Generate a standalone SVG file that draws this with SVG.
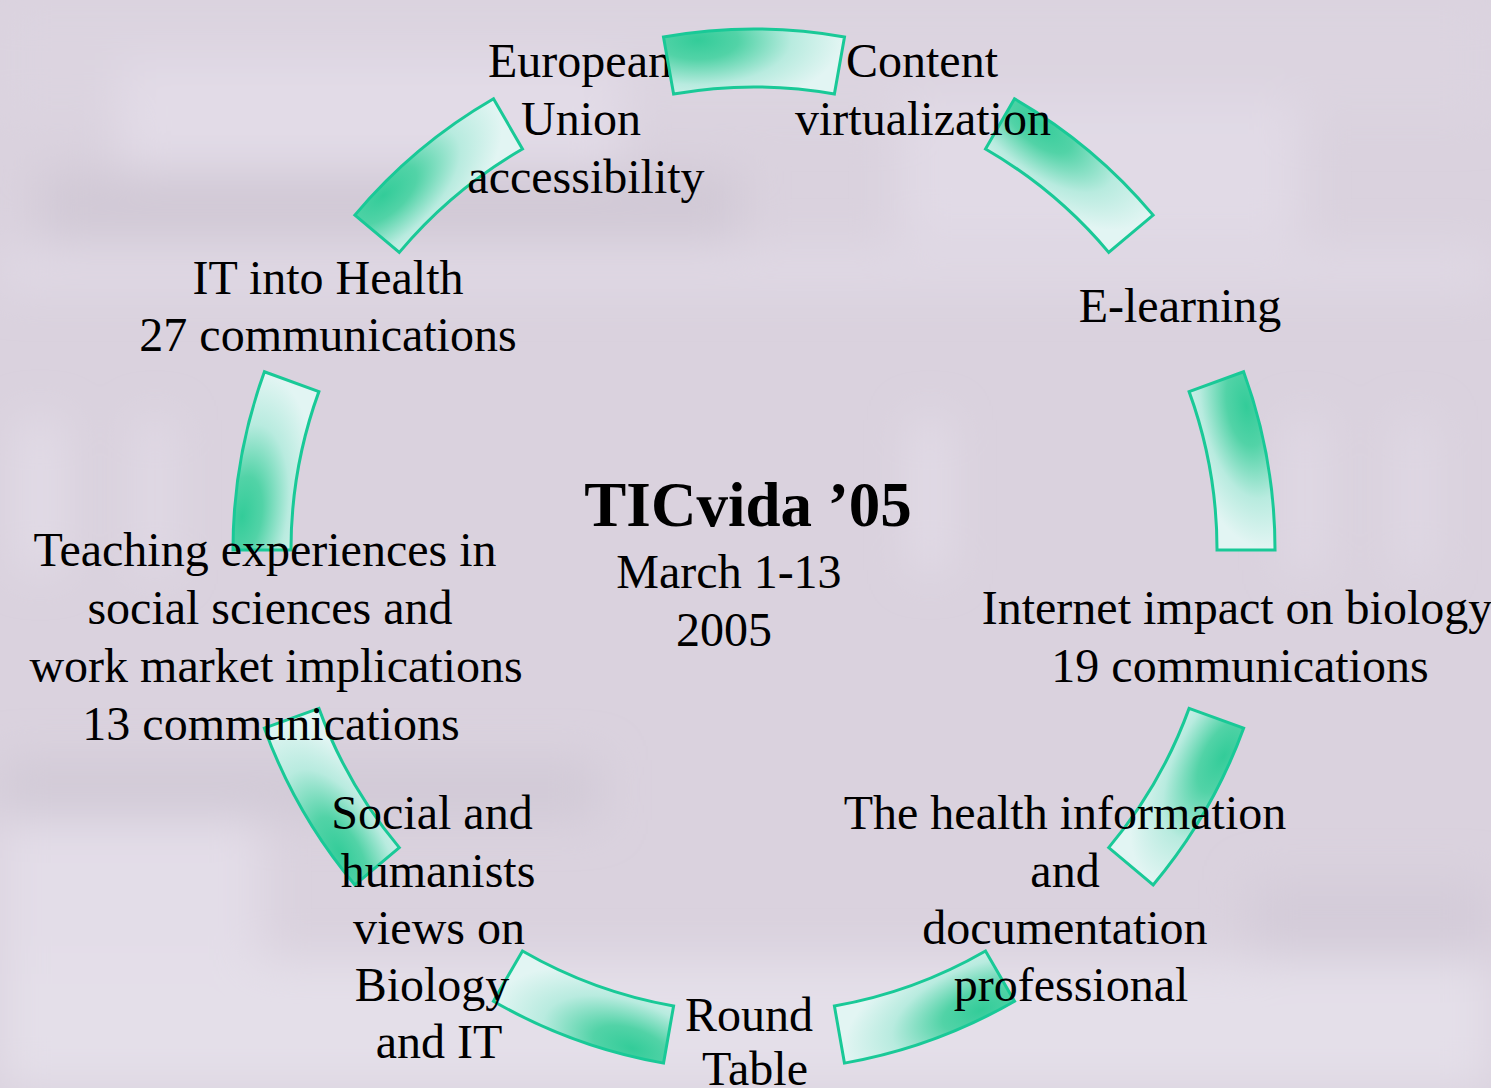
<svg xmlns="http://www.w3.org/2000/svg" width="1491" height="1088" viewBox="0 0 1491 1088">
  <defs>
    <style>
      .seg { fill: url(#segGrad); stroke: #19c997; stroke-width: 3; stroke-linejoin: miter; }
      .lbl { font-family: "Liberation Serif", "Times New Roman", serif; font-size: 48px; fill: #000; text-anchor: middle; }
      .title { font-family: "Liberation Serif", "Times New Roman", serif; font-size: 63px; font-weight: bold; fill: #000; text-anchor: middle; }
    </style>
    <radialGradient id="segGrad" gradientUnits="userSpaceOnUse" cx="698" cy="40" r="115" gradientTransform="translate(698,40) scale(1.25,0.6) translate(-698,-40)">
      <stop offset="0" stop-color="#33cc99"/>
      <stop offset="0.28" stop-color="#52d3a7"/>
      <stop offset="0.65" stop-color="#b8ebdf"/>
      <stop offset="1" stop-color="#e2f5f3"/>
    </radialGradient>
    <filter id="blur" x="-20%" y="-20%" width="140%" height="140%">
      <feGaussianBlur stdDeviation="22"/>
    </filter>
    <path id="arc" d="M663.5,36.9 A521,521 0 0 1 844.5,36.9 L834.4,94.0 A463,463 0 0 0 673.6,94.0 Z"/>
  </defs>

  <g id="background">
    <rect x="0" y="0" width="1491" height="1088" fill="#dad2de"/>
    <g filter="url(#blur)">
      <rect x="0" y="0" width="1491" height="120" fill="#dcd4e0"/>
      <rect x="120" y="60" width="500" height="120" fill="#e2dbe7"/>
      <rect x="40" y="170" width="700" height="70" fill="#d1c9d6"/>
      <rect x="0" y="250" width="1491" height="40" fill="#e0d9e5"/>
      <rect x="900" y="100" width="400" height="140" fill="#e1dae6"/>
      <rect x="20" y="420" width="40" height="150" fill="#e3dde8"/>
      <rect x="140" y="420" width="30" height="150" fill="#e2dbe7"/>
      <rect x="915" y="420" width="30" height="150" fill="#e4dee9"/>
      <rect x="1290" y="420" width="30" height="150" fill="#e2dbe7"/>
      <rect x="1400" y="420" width="30" height="150" fill="#e1dae6"/>
      <rect x="0" y="760" width="600" height="60" fill="#d2cad7"/>
      <rect x="0" y="820" width="260" height="200" fill="#e3dde8"/>
      <rect x="0" y="960" width="1491" height="128" fill="#e4dfe9"/>
      <rect x="1250" y="880" width="241" height="80" fill="#d4ccd9"/>
    </g>
  </g>

  <g id="connectors">
    <g id="seg-upper-right"><use href="#arc" class="seg" transform="rotate(40 754 550)"/></g>
    <g id="seg-right"><use href="#arc" class="seg" transform="rotate(80 754 550)"/></g>
    <g id="seg-lower-right"><use href="#arc" class="seg" transform="rotate(120 754 550)"/></g>
    <g id="seg-bottom-right"><use href="#arc" class="seg" transform="rotate(160 754 550)"/></g>
    <g id="seg-bottom-left"><use href="#arc" class="seg" transform="rotate(200 754 550)"/></g>
    <g id="seg-lower-left"><use href="#arc" class="seg" transform="rotate(240 754 550)"/></g>
    <g id="seg-left"><use href="#arc" class="seg" transform="rotate(280 754 550)"/></g>
    <g id="seg-upper-left"><use href="#arc" class="seg" transform="rotate(320 754 550)"/></g>
  </g>

  <g id="node-center">
    <text class="title" x="748" y="526">TICvida ’05</text>
    <text class="lbl" x="729" y="588">March 1-13</text>
    <text class="lbl" x="724" y="646">2005</text>
  </g>

  <g id="node-eu">
    <text class="lbl" x="580" y="77">European</text>
    <text class="lbl" x="581" y="135">Union</text>
    <text class="lbl" x="586" y="193">accessibility</text>
  </g>

  <g id="node-content">
    <text class="lbl" x="922" y="77">Content</text>
    <text class="lbl" x="923" y="135">virtualization</text>
  </g>

  <g id="node-elearning">
    <text class="lbl" x="1180" y="322">E-learning</text>
  </g>

  <g id="node-internet">
    <text class="lbl" x="1237" y="624">Internet impact on biology</text>
    <text class="lbl" x="1240" y="682">19 communications</text>
  </g>

  <g id="node-health-info">
    <text class="lbl" x="1065" y="829">The health information</text>
    <text class="lbl" x="1065" y="887">and</text>
    <text class="lbl" x="1065" y="944">documentation</text>
    <text class="lbl" x="1071" y="1001">professional</text>
  </g>

  <g id="node-round-table">
    <text class="lbl" x="749" y="1031">Round</text>
    <text class="lbl" x="755" y="1085">Table</text>
  </g>

  <g id="node-social">
    <text class="lbl" x="432" y="829">Social and</text>
    <text class="lbl" x="438" y="887">humanists</text>
    <text class="lbl" x="439" y="944">views on</text>
    <text class="lbl" x="432" y="1001">Biology</text>
    <text class="lbl" x="439" y="1058">and IT</text>
  </g>

  <g id="node-teaching">
    <text class="lbl" x="265" y="566">Teaching experiences in</text>
    <text class="lbl" x="270" y="624">social sciences and</text>
    <text class="lbl" x="276" y="682">work market implications</text>
    <text class="lbl" x="271" y="740">13 communications</text>
  </g>

  <g id="node-it-health">
    <text class="lbl" x="328" y="294">IT into Health</text>
    <text class="lbl" x="328" y="351">27 communications</text>
  </g>

  <g id="seg-top"><use href="#arc" class="seg"/></g>
</svg>
